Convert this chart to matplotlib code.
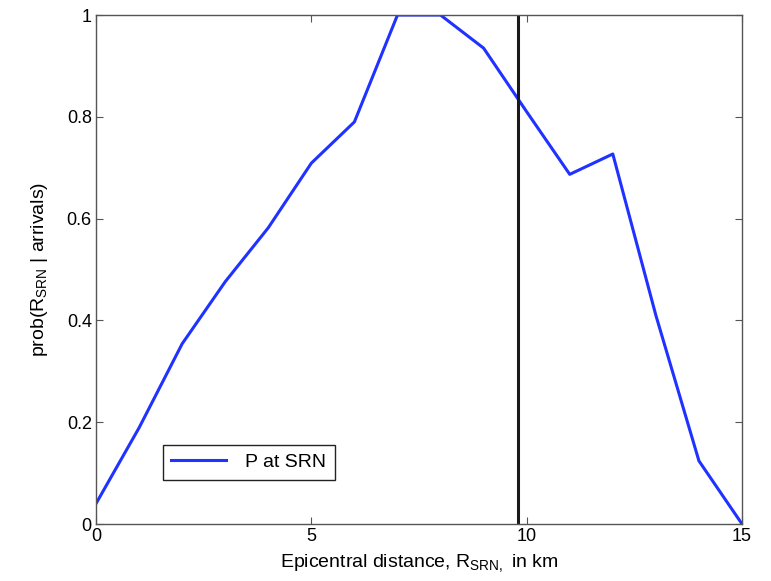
import matplotlib
matplotlib.use("Agg")
import matplotlib.pyplot as plt

plt.rcParams["font.family"] = ["Liberation Sans", "DejaVu Sans"]
plt.rcParams["mathtext.fontset"] = "custom"
plt.rcParams["mathtext.rm"] = "Liberation Sans"
plt.rcParams["mathtext.default"] = "regular"

# epicentral distance (km) and probability
distance = [0, 1, 2, 3, 4, 5, 6, 7, 8, 9, 10, 11, 12, 13, 14, 15]
prob = [0.04, 0.189, 0.354, 0.476, 0.582, 0.709, 0.79, 1.0, 1.0, 0.935,
        0.81, 0.687, 0.727, 0.41, 0.124, 0.0]
station_distance = 9.8

fig = plt.figure(figsize=(7.71, 5.81), dpi=100)
ax = fig.add_axes([0.1245, 0.0981, 0.8379, 0.876])

ax.plot(distance, prob, color="#1f32ff", lw=2.2, label="P at SRN")
ax.axvline(station_distance, color="#1a1a1a", lw=2.2)

ax.set_xlim(0, 15)
ax.set_ylim(0, 1)
ax.set_xticks([0, 5, 10, 15])
ax.set_yticks([0, 0.2, 0.4, 0.6, 0.8, 1])
ax.set_yticklabels(["0", "0.2", "0.4", "0.6", "0.8", "1"])
ax.tick_params(direction="in", top=True, right=True, length=5,
               labelsize=13, color="#555555", pad=3)
for s in ax.spines.values():
    s.set_color("#555555")
    s.set_linewidth(1.0)

ax.set_xlabel("Epicentral distance, R$_{SRN,}$ in km", fontsize=14, labelpad=5)
ax.set_ylabel("prob(R$_{SRN}$ | arrivals)", fontsize=14, labelpad=12)

leg = ax.legend(loc="lower left", bbox_to_anchor=(0.088, 0.068), fontsize=14,
                fancybox=False, framealpha=1, edgecolor="#222222",
                handlelength=2.8, borderpad=0.45, handletextpad=1.0)
leg.get_frame().set_linewidth(1.0)

fig.savefig("out.png", dpi=100)
